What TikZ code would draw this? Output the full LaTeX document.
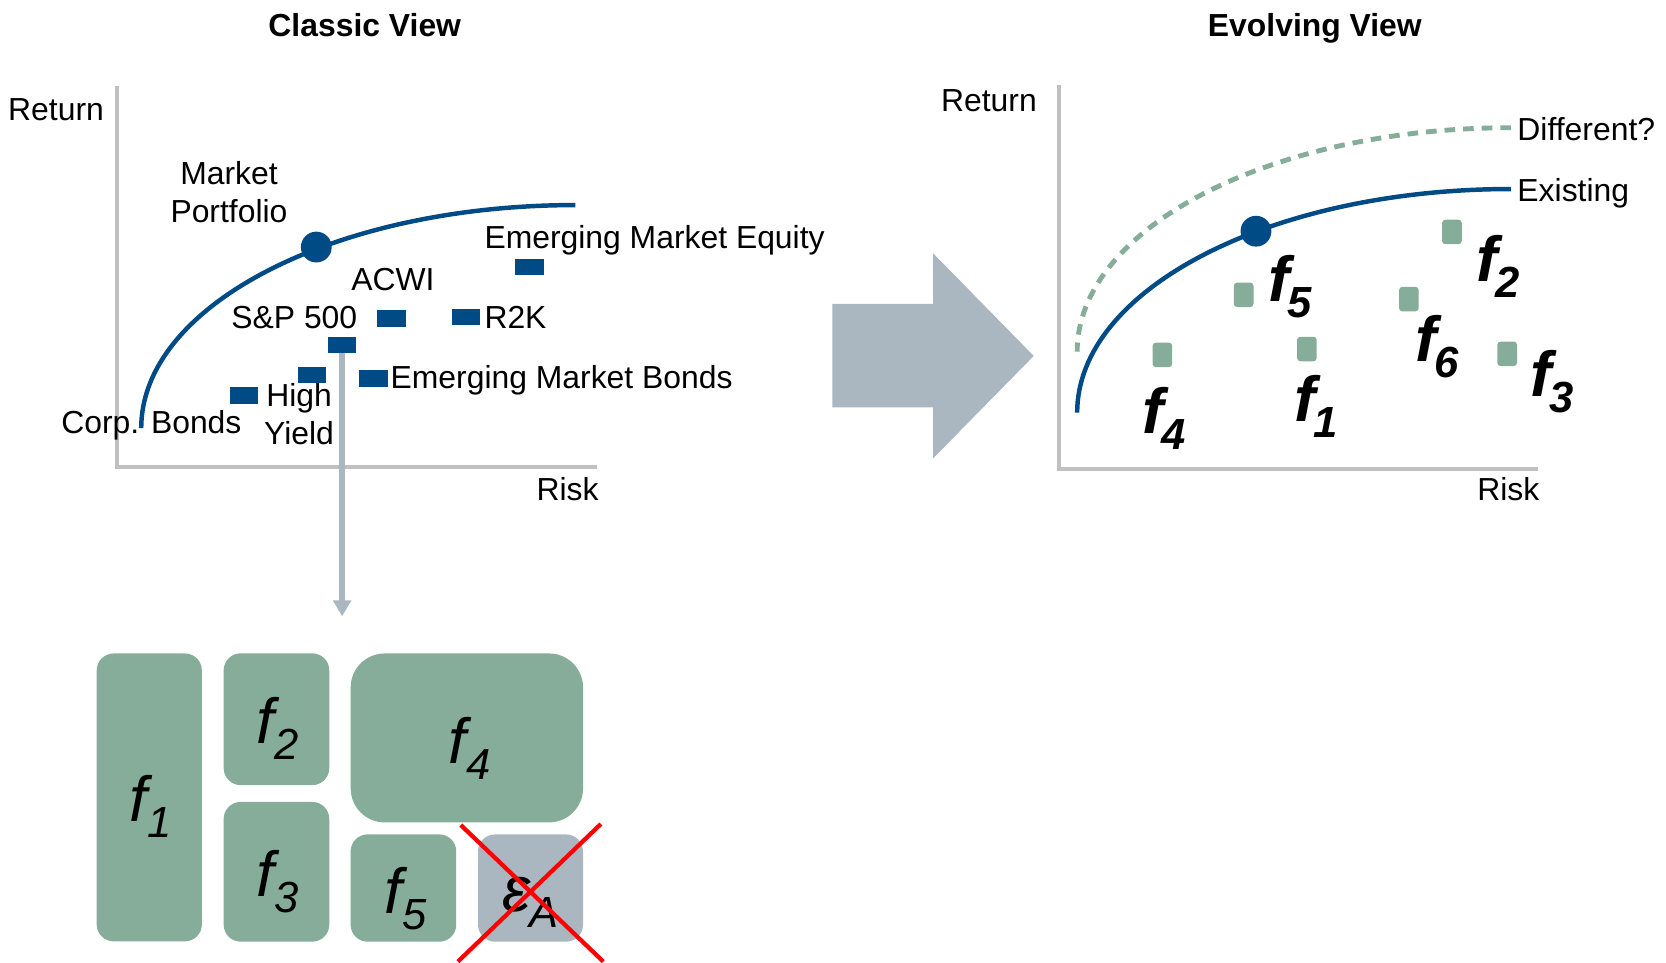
\documentclass[tikz,border=0pt]{standalone}
\usepackage{fontspec}
\setmainfont{Liberation Sans}
\usetikzlibrary{arrows.meta}
\definecolor{navy}{RGB}{0,74,134}
\definecolor{sage}{RGB}{133,173,153}
\definecolor{slate}{RGB}{170,183,193}
\definecolor{axisgray}{RGB}{192,192,192}
\newcommand\flabel[3]{#1\kern#3\raisebox{-15pt}{\fontsize{41}{41}\selectfont #2}}
\begin{document}
\begin{tikzpicture}[x=1pt,y=-1pt,
  lbl/.style={font=\fontsize{30}{36}\selectfont, inner sep=0pt},
  ttl/.style={font=\bfseries\fontsize{30}{36}\selectfont, inner sep=0pt},
  axisline/.style={draw=axisgray, line width=3.6pt},
  bluebox/.style={fill=navy, minimum width=27pt, minimum height=15.5pt, inner sep=0pt},
  greensq/.style={fill=sage, rounded corners=3pt, minimum width=18.5pt, minimum height=23pt, inner sep=0pt},
  dot/.style={circle, fill=navy, minimum size=29pt, inner sep=0pt},
  frontier/.style={draw=navy, line width=4.2pt},
  factorbox/.style={fill=sage, rounded corners=16pt, inner sep=0pt},
  boxlab/.style={font=\itshape\fontsize{60}{60}\selectfont, inner sep=0pt, anchor=base west},
  chartlab/.style={font=\bfseries\itshape\fontsize{60}{60}\selectfont, inner sep=0pt, anchor=base west}
]
\useasboundingbox (0,0) rectangle (1568,906);

% ---------------- Classic view ----------------
\node[ttl, anchor=base] (t1) at (343.3,34.5) {Classic View};
\coordinate (ctop) at (110.5,81);
\coordinate (corig) at (110.5,439.5);
\coordinate (cright) at (562,439.5);
\draw[axisline] (ctop) -- (corig) -- (cright);
\node[lbl, anchor=base west] (cret) at (7.5,113) {Return};
\node[lbl, anchor=base east] (crisk) at (563.5,471) {Risk};

\coordinate (cs) at (132.9,403);
\coordinate (ce) at (541.5,193);
\draw[frontier] (cs) .. controls (132.9,287) and (315.8,193) .. (ce);
\node[dot] (mkt) at (297.7,232.5) {};
\node[lbl, align=center, anchor=base] (mktl) at (215.5,209.6) {Market\\Portfolio};

\node[bluebox] (corp) at (229.5,372.4) {};
\node[bluebox] (hy) at (293.6,353) {};
\node[bluebox] (sp) at (322,324.7) {};
\node[bluebox] (acwi) at (368.3,299.6) {};
\node[bluebox] (r2k) at (438.5,298.3) {};
\node[bluebox] (emb) at (351.8,356.4) {};
\node[bluebox] (eme) at (498.5,251.1) {};

\node[lbl, anchor=base west] (corpl) at (57.5,408) {Corp. Bonds};
\node[lbl, align=center, anchor=base] (hyl) at (281.5,418.8) {High\\Yield};
\node[lbl, anchor=base west] (spl) at (217.6,309) {S\&P 500};
\node[lbl, anchor=base west] (acwil) at (330.5,273) {ACWI};
\node[lbl, anchor=base west] (r2kl) at (455.8,309) {R2K};
\node[lbl, anchor=base west] (emel) at (455.8,233.7) {Emerging Market Equity};
\node[lbl, anchor=base west] (embl) at (367.5,365.5) {Emerging Market Bonds};

% decomposition arrow
\coordinate (sptip) at (322,580);
\draw[draw=slate, line width=5.6pt, -{Triangle[length=15pt,width=16.5pt]}] (sp.south) -- (sptip);

% ---------------- factor boxes ----------------
\node[factorbox, minimum width=99pt, minimum height=271pt] (b1) at (140.5,750.5) {};
\node[factorbox, minimum width=99.4pt, minimum height=124pt] (b2) at (260.2,676.9) {};
\node[factorbox, minimum width=99.4pt, minimum height=131.5pt] (b3) at (260.2,820.5) {};
\node[factorbox, rounded corners=32pt, minimum width=218.7pt, minimum height=159pt] (b4) at (439.4,694.5) {};
\node[factorbox, minimum width=99.4pt, minimum height=101pt] (b5) at (379.7,835.8) {};
\node[factorbox, fill=slate, minimum width=98.8pt, minimum height=101pt] (be) at (499.3,835.8) {};

\node[boxlab] (l1) at (122,773) {\flabel{f}{1}{0pt}};
\node[boxlab] (l2) at (241.6,700.2) {\flabel{f}{2}{0pt}};
\node[boxlab] (l3) at (241.6,843.9) {\flabel{f}{3}{0pt}};
\node[boxlab] (l4) at (421.9,718.4) {\flabel{f}{4}{0pt}};
\node[boxlab] (l5) at (361.9,859.6) {\flabel{f}{5}{0pt}};
\node[boxlab] (le) at (472.5,858.1) {\flabel{ε}{A}{-1pt}};

\coordinate (x1a) at (433.7,776.5);
\coordinate (x1b) at (567.8,905);
\coordinate (x2a) at (565.5,775.5);
\coordinate (x2b) at (431,905);
\draw[red, line width=4pt] (x1a) -- (x1b);
\draw[red, line width=4pt] (x2a) -- (x2b);

% ---------------- big arrow ----------------
\fill[slate] (783.5,286.1) -- (878.2,286.1) -- (878.2,238.4) -- (972.9,335) -- (878.2,431.4) -- (878.2,383.4) -- (783.5,383.4) -- cycle;

% ---------------- Evolving view ----------------
\node[ttl, anchor=base] (t2) at (1237.5,34.5) {Evolving View};
\coordinate (etop) at (996.6,80);
\coordinate (eorig) at (996.6,441.7);
\coordinate (eright) at (1447.5,441.7);
\draw[axisline] (etop) -- (eorig) -- (eright);
\node[lbl, anchor=base east] (eret) at (976,105) {Return};
\node[lbl, anchor=base east] (erisk) at (1449,471) {Risk};

\coordinate (ds) at (1013.8,331);
\coordinate (de) at (1422,120.2);
\draw[draw=sage, line width=4.6pt, dash pattern=on 10pt off 7.5pt] (de) .. controls (1196.6,120.2) and (1013.8,214.6) .. (ds);
\coordinate (es) at (1013.8,388.4);
\coordinate (ee) at (1422,177.9);
\draw[frontier] (es) .. controls (1013.8,272.1) and (1196.6,177.9) .. (ee);
\node[dot] (edot) at (1182.1,217.6) {};
\node[lbl, anchor=base west] (diff) at (1428,131.8) {Different?};
\node[lbl, anchor=base west] (exist) at (1428,189.8) {Existing};

\node[greensq] (q4) at (1094,334) {};
\node[greensq] (q5) at (1170.5,277.5) {};
\node[greensq] (q1) at (1230,328.5) {};
\node[greensq] (q6) at (1326,281.5) {};
\node[greensq] (q2) at (1366.5,218.3) {};
\node[greensq] (q3) at (1418.5,333) {};

\node[chartlab] (g4) at (1075,408) {\flabel{f}{4}{-2pt}};
\node[chartlab] (g5) at (1194,284) {\flabel{f}{5}{-2pt}};
\node[chartlab] (g1) at (1218,397) {\flabel{f}{1}{-2pt}};
\node[chartlab] (g6) at (1332,340) {\flabel{f}{6}{-2pt}};
\node[chartlab] (g2) at (1389,265) {\flabel{f}{2}{-2pt}};
\node[chartlab] (g3) at (1440,373) {\flabel{f}{3}{-2pt}};
\end{tikzpicture}
\end{document}
